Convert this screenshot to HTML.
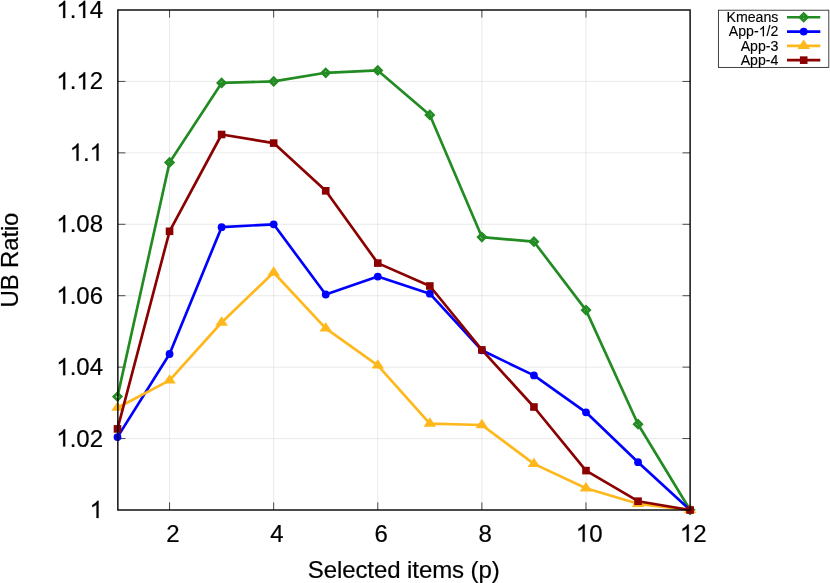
<!DOCTYPE html>
<html><head><meta charset="utf-8"><title>UB Ratio</title>
<style>
html,body{margin:0;padding:0;background:#fff;}
body{width:830px;height:583px;overflow:hidden;font-family:"Liberation Sans",sans-serif;}
svg{display:block;will-change:transform;}
text{font-kerning:none;}
</style></head><body>
<svg width="830" height="583" viewBox="0 0 830 583">
<rect width="830" height="583" fill="#fff"/>
<path d="M169.55 10V510M273.66 10V510M377.77 10V510M481.88 10V510M585.99 10V510M117.85 438.57H690.1M117.85 367.14H690.1M117.85 295.71H690.1M117.85 224.29H690.1M117.85 152.86H690.1M117.85 81.43H690.1" stroke="#e0e0e0" stroke-width="0.67" fill="none"/>
<path d="M169.55 510v-7.6M169.55 10v7.6M273.66 510v-7.6M273.66 10v7.6M377.77 510v-7.6M377.77 10v7.6M481.88 510v-7.6M481.88 10v7.6M585.99 510v-7.6M585.99 10v7.6M117.85 438.57h7.6M690.1 438.57h-7.6M117.85 367.14h7.6M690.1 367.14h-7.6M117.85 295.71h7.6M690.1 295.71h-7.6M117.85 224.29h7.6M690.1 224.29h-7.6M117.85 152.86h7.6M690.1 152.86h-7.6M117.85 81.43h7.6M690.1 81.43h-7.6" stroke="#000" stroke-width="0.7" fill="none"/>
<g font-family="'Liberation Sans', sans-serif" font-size="24" fill="#000" stroke="#000" stroke-width="0.2">
<path vector-effect="non-scaling-stroke" transform="translate(89.65,518) scale(0.011719,-0.011719)" d="M763 0H583V1147Q518 1085 412.5 1023T223 930V1104Q373 1174.5 485.25 1274.75T644 1472H763Z"/>
<path vector-effect="non-scaling-stroke" transform="translate(56.29,446.57) scale(0.011719,-0.011719)" d="M763 0H583V1147Q518 1085 412.5 1023T223 930V1104Q373 1174.5 485.25 1274.75T644 1472H763Z"/><text x="69.64" y="446.57">.02</text>
<path vector-effect="non-scaling-stroke" transform="translate(56.29,375.14) scale(0.011719,-0.011719)" d="M763 0H583V1147Q518 1085 412.5 1023T223 930V1104Q373 1174.5 485.25 1274.75T644 1472H763Z"/><text x="69.64" y="375.14">.04</text>
<path vector-effect="non-scaling-stroke" transform="translate(56.29,303.71) scale(0.011719,-0.011719)" d="M763 0H583V1147Q518 1085 412.5 1023T223 930V1104Q373 1174.5 485.25 1274.75T644 1472H763Z"/><text x="69.64" y="303.71">.06</text>
<path vector-effect="non-scaling-stroke" transform="translate(56.29,232.29) scale(0.011719,-0.011719)" d="M763 0H583V1147Q518 1085 412.5 1023T223 930V1104Q373 1174.5 485.25 1274.75T644 1472H763Z"/><text x="69.64" y="232.29">.08</text>
<path vector-effect="non-scaling-stroke" transform="translate(69.64,160.86) scale(0.011719,-0.011719)" d="M763 0H583V1147Q518 1085 412.5 1023T223 930V1104Q373 1174.5 485.25 1274.75T644 1472H763Z"/><text x="82.98" y="160.86">.</text><path vector-effect="non-scaling-stroke" transform="translate(89.65,160.86) scale(0.011719,-0.011719)" d="M763 0H583V1147Q518 1085 412.5 1023T223 930V1104Q373 1174.5 485.25 1274.75T644 1472H763Z"/>
<path vector-effect="non-scaling-stroke" transform="translate(56.29,89.43) scale(0.011719,-0.011719)" d="M763 0H583V1147Q518 1085 412.5 1023T223 930V1104Q373 1174.5 485.25 1274.75T644 1472H763Z"/><text x="69.64" y="89.43">.</text><path vector-effect="non-scaling-stroke" transform="translate(76.3,89.43) scale(0.011719,-0.011719)" d="M763 0H583V1147Q518 1085 412.5 1023T223 930V1104Q373 1174.5 485.25 1274.75T644 1472H763Z"/><text x="89.65" y="89.43">2</text>
<path vector-effect="non-scaling-stroke" transform="translate(56.29,18) scale(0.011719,-0.011719)" d="M763 0H583V1147Q518 1085 412.5 1023T223 930V1104Q373 1174.5 485.25 1274.75T644 1472H763Z"/><text x="69.64" y="18">.</text><path vector-effect="non-scaling-stroke" transform="translate(76.3,18) scale(0.011719,-0.011719)" d="M763 0H583V1147Q518 1085 412.5 1023T223 930V1104Q373 1174.5 485.25 1274.75T644 1472H763Z"/><text x="89.65" y="18">4</text>
<text x="166.3" y="541.8">2</text>
<text x="270.34" y="541.8">4</text>
<text x="374.39" y="541.8">6</text>
<text x="478.44" y="541.8">8</text>
<path vector-effect="non-scaling-stroke" transform="translate(575.81,541.8) scale(0.011719,-0.011719)" d="M763 0H583V1147Q518 1085 412.5 1023T223 930V1104Q373 1174.5 485.25 1274.75T644 1472H763Z"/><text x="589.15" y="541.8">0</text>
<path vector-effect="non-scaling-stroke" transform="translate(679.85,541.8) scale(0.011719,-0.011719)" d="M763 0H583V1147Q518 1085 412.5 1023T223 930V1104Q373 1174.5 485.25 1274.75T644 1472H763Z"/><text x="693.2" y="541.8">2</text>
<text x="403.7" y="577.7" text-anchor="middle" letter-spacing="-0.08">Selected items (p)</text>
<text transform="translate(17.5,260.1) rotate(-90)" text-anchor="middle" letter-spacing="-0.17">UB Ratio</text>
</g>
<polyline points="117.5,396.6 169.55,162.4 221.61,82.9 273.66,81.4 325.72,72.8 377.77,70.4 429.83,114.9 481.88,237.1 533.94,241.7 585.99,310.1 638.05,424.2 690.1,510" fill="none" stroke="#228b22" stroke-width="2.67" stroke-linejoin="round" stroke-linecap="butt"/>
<path d="M113.8 396.6L117.5 392.9L121.2 396.6L117.5 400.3Z" fill="none" stroke="#228b22" stroke-width="2.67" stroke-linejoin="miter"/><path d="M165.85 162.4L169.55 158.7L173.25 162.4L169.55 166.1Z" fill="none" stroke="#228b22" stroke-width="2.67" stroke-linejoin="miter"/><path d="M217.91 82.9L221.61 79.2L225.31 82.9L221.61 86.6Z" fill="none" stroke="#228b22" stroke-width="2.67" stroke-linejoin="miter"/><path d="M269.96 81.4L273.66 77.7L277.36 81.4L273.66 85.1Z" fill="none" stroke="#228b22" stroke-width="2.67" stroke-linejoin="miter"/><path d="M322.02 72.8L325.72 69.1L329.42 72.8L325.72 76.5Z" fill="none" stroke="#228b22" stroke-width="2.67" stroke-linejoin="miter"/><path d="M374.07 70.4L377.77 66.7L381.47 70.4L377.77 74.1Z" fill="none" stroke="#228b22" stroke-width="2.67" stroke-linejoin="miter"/><path d="M426.13 114.9L429.83 111.2L433.53 114.9L429.83 118.6Z" fill="none" stroke="#228b22" stroke-width="2.67" stroke-linejoin="miter"/><path d="M478.18 237.1L481.88 233.4L485.58 237.1L481.88 240.8Z" fill="none" stroke="#228b22" stroke-width="2.67" stroke-linejoin="miter"/><path d="M530.24 241.7L533.94 238L537.64 241.7L533.94 245.4Z" fill="none" stroke="#228b22" stroke-width="2.67" stroke-linejoin="miter"/><path d="M582.29 310.1L585.99 306.4L589.69 310.1L585.99 313.8Z" fill="none" stroke="#228b22" stroke-width="2.67" stroke-linejoin="miter"/><path d="M634.35 424.2L638.05 420.5L641.75 424.2L638.05 427.9Z" fill="none" stroke="#228b22" stroke-width="2.67" stroke-linejoin="miter"/><path d="M686.4 510L690.1 506.3L693.8 510L690.1 513.7Z" fill="none" stroke="#228b22" stroke-width="2.67" stroke-linejoin="miter"/>
<polyline points="117.5,437.1 169.55,354 221.61,227.2 273.66,224.3 325.72,294.5 377.77,276.6 429.83,293.7 481.88,350.3 533.94,375.4 585.99,412.3 638.05,462.2 690.1,510" fill="none" stroke="#0000ff" stroke-width="2.67" stroke-linejoin="round" stroke-linecap="butt"/>
<circle cx="117.5" cy="437.1" r="3.9" fill="#0000ff"/><circle cx="169.55" cy="354" r="3.9" fill="#0000ff"/><circle cx="221.61" cy="227.2" r="3.9" fill="#0000ff"/><circle cx="273.66" cy="224.3" r="3.9" fill="#0000ff"/><circle cx="325.72" cy="294.5" r="3.9" fill="#0000ff"/><circle cx="377.77" cy="276.6" r="3.9" fill="#0000ff"/><circle cx="429.83" cy="293.7" r="3.9" fill="#0000ff"/><circle cx="481.88" cy="350.3" r="3.9" fill="#0000ff"/><circle cx="533.94" cy="375.4" r="3.9" fill="#0000ff"/><circle cx="585.99" cy="412.3" r="3.9" fill="#0000ff"/><circle cx="638.05" cy="462.2" r="3.9" fill="#0000ff"/><circle cx="690.1" cy="510" r="3.9" fill="#0000ff"/>
<polyline points="117.5,407.7 169.55,380.4 221.61,322.5 273.66,272.5 325.72,328.4 377.77,365.4 429.83,423.6 481.88,425 533.94,463.9 585.99,488.3 638.05,503.8 690.1,510" fill="none" stroke="#ffb81c" stroke-width="2.67" stroke-linejoin="round" stroke-linecap="butt"/>
<path d="M117.5 401.43L111.23 410.83L123.77 410.83Z" fill="#ffb81c"/><path d="M169.55 374.13L163.29 383.53L175.82 383.53Z" fill="#ffb81c"/><path d="M221.61 316.23L215.34 325.63L227.88 325.63Z" fill="#ffb81c"/><path d="M273.66 266.23L267.4 275.63L279.93 275.63Z" fill="#ffb81c"/><path d="M325.72 322.13L319.45 331.53L331.98 331.53Z" fill="#ffb81c"/><path d="M377.77 359.13L371.51 368.53L384.04 368.53Z" fill="#ffb81c"/><path d="M429.83 417.33L423.56 426.73L436.09 426.73Z" fill="#ffb81c"/><path d="M481.88 418.73L475.62 428.13L488.15 428.13Z" fill="#ffb81c"/><path d="M533.94 457.63L527.67 467.03L540.2 467.03Z" fill="#ffb81c"/><path d="M585.99 482.03L579.72 491.43L592.26 491.43Z" fill="#ffb81c"/><path d="M638.05 497.53L631.78 506.93L644.31 506.93Z" fill="#ffb81c"/><path d="M690.1 503.73L683.83 513.13L696.37 513.13Z" fill="#ffb81c"/>
<polyline points="117.5,428.9 169.55,231.3 221.61,134.5 273.66,143.1 325.72,190.8 377.77,263.1 429.83,286 481.88,349.9 533.94,407 585.99,470.6 638.05,501.2 690.1,510" fill="none" stroke="#8b0000" stroke-width="2.67" stroke-linejoin="round" stroke-linecap="butt"/>
<rect x="113.7" y="425.1" width="7.6" height="7.6" fill="#8b0000"/><rect x="165.75" y="227.5" width="7.6" height="7.6" fill="#8b0000"/><rect x="217.81" y="130.7" width="7.6" height="7.6" fill="#8b0000"/><rect x="269.86" y="139.3" width="7.6" height="7.6" fill="#8b0000"/><rect x="321.92" y="187" width="7.6" height="7.6" fill="#8b0000"/><rect x="373.97" y="259.3" width="7.6" height="7.6" fill="#8b0000"/><rect x="426.03" y="282.2" width="7.6" height="7.6" fill="#8b0000"/><rect x="478.08" y="346.1" width="7.6" height="7.6" fill="#8b0000"/><rect x="530.14" y="403.2" width="7.6" height="7.6" fill="#8b0000"/><rect x="582.19" y="466.8" width="7.6" height="7.6" fill="#8b0000"/><rect x="634.25" y="497.4" width="7.6" height="7.6" fill="#8b0000"/><rect x="686.3" y="506.2" width="7.6" height="7.6" fill="#8b0000"/>
<rect x="117.85" y="10" width="572.25" height="500" fill="none" stroke="#000" stroke-width="1.4"/>
<rect x="718.4" y="10.2" width="110.4" height="57.2" fill="#fff" stroke="#222" stroke-width="0.85"/>
<g font-family="'Liberation Sans', sans-serif" font-size="14.15" fill="#000" stroke="#000" stroke-width="0.12">
<text x="726.49" y="21.95">Kmeans</text>
<text x="728.84" y="36.25">App-</text><path vector-effect="non-scaling-stroke" transform="translate(758.73,36.25) scale(0.006909,-0.006909)" d="M763 0H583V1147Q518 1085 412.5 1023T223 930V1104Q373 1174.5 485.25 1274.75T644 1472H763Z"/><text x="766.6" y="36.25">/2</text>
<text x="740.64" y="50.55">App-3</text>
<text x="740.64" y="64.85">App-4</text>
</g>
<path d="M787 17.25H820.3" stroke="#228b22" stroke-width="2.67" fill="none"/>
<path d="M800 17.25L803.7 13.55L807.4 17.25L803.7 20.95Z" fill="none" stroke="#228b22" stroke-width="2.67" stroke-linejoin="miter"/>
<path d="M787 31.55H820.3" stroke="#0000ff" stroke-width="2.67" fill="none"/>
<circle cx="803.7" cy="31.55" r="3.9" fill="#0000ff"/>
<path d="M787 45.85H820.3" stroke="#ffb81c" stroke-width="2.67" fill="none"/>
<path d="M803.7 39.58L797.43 48.98L809.97 48.98Z" fill="#ffb81c"/>
<path d="M787 60.15H820.3" stroke="#8b0000" stroke-width="2.67" fill="none"/>
<rect x="799.9" y="56.35" width="7.6" height="7.6" fill="#8b0000"/>
</svg>
</body></html>
